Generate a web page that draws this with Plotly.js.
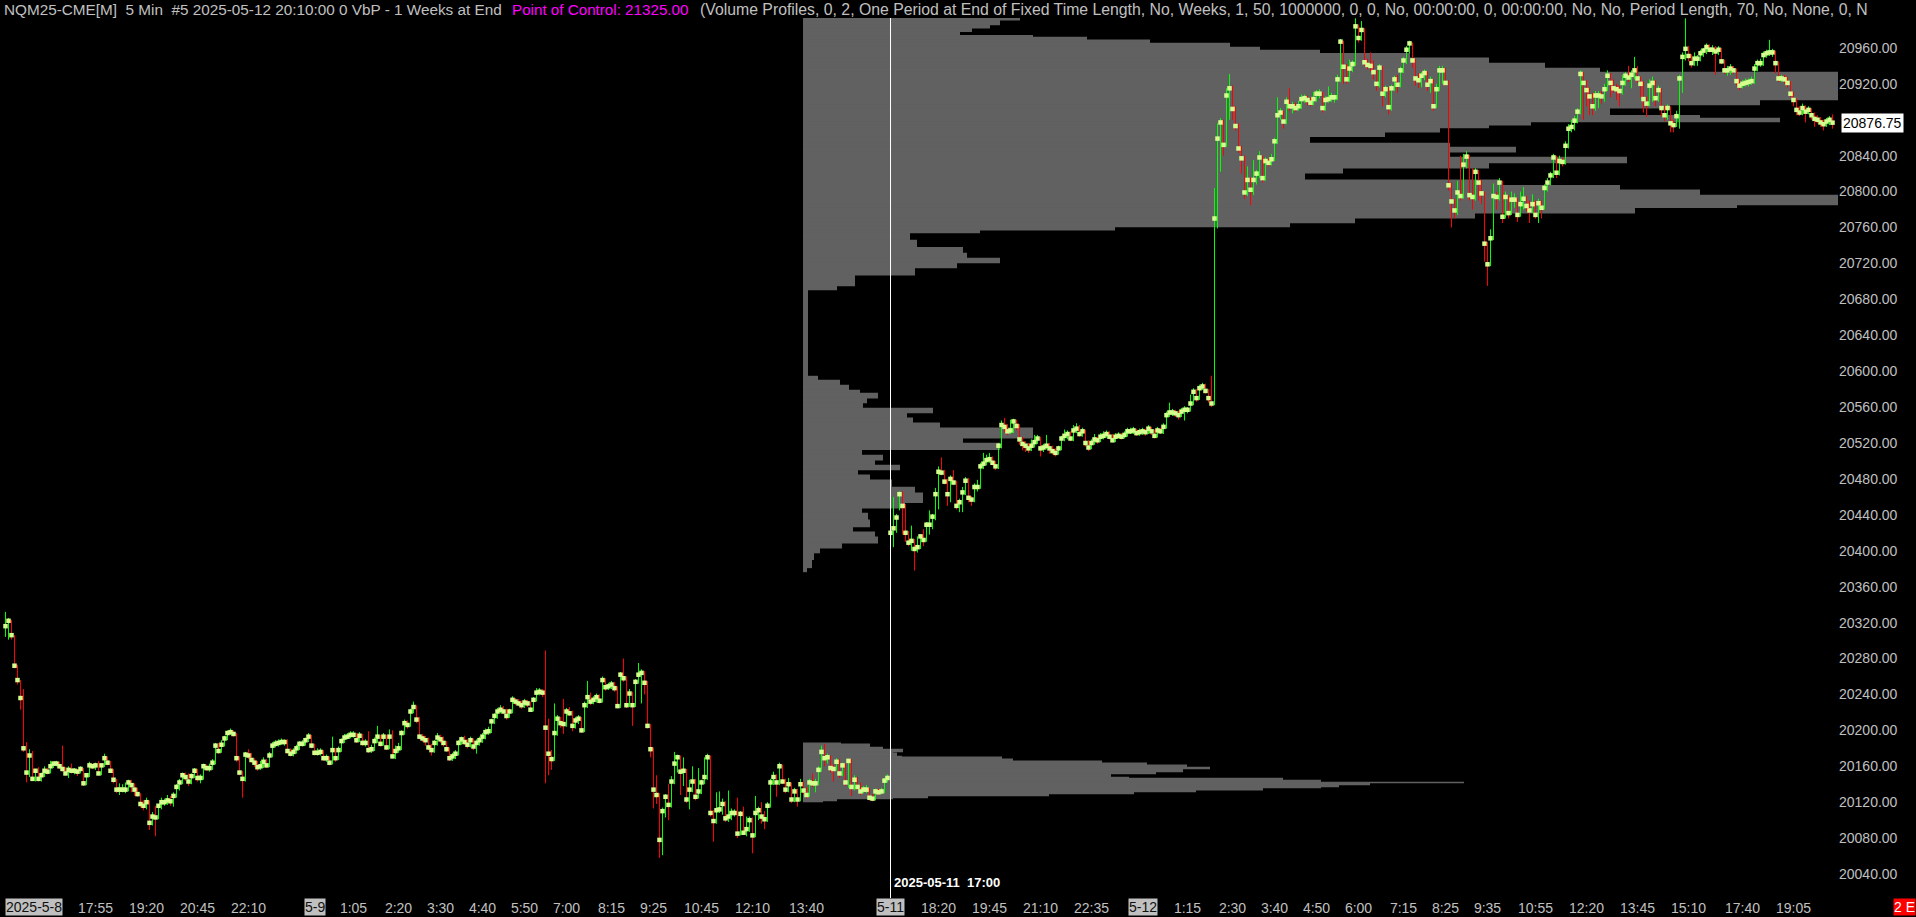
<!DOCTYPE html>
<html><head><meta charset="utf-8">
<script src="https://cdn.plot.ly/plotly-3.0.1.min.js"></script>
<style>html,body{margin:0;padding:0;background:#000;overflow:hidden}#chart{width:1916px;height:917px}</style>
</head><body><div id="chart"></div>
<script>
// ---- sessions: [date, start time, number of 5-min bars]
const sessions = [['5-8','14:25',19],['5-8','17:00',84],['5-9','0:00',192],['5-11','17:00',84],['5-12','0:00',192],['5-12','17:00',39]];

// ---- bar data (close / high / low) per trading day
const close0508 = [20316,20322,20306,20272,20256,20236,20180,20153,20172,20146,
20155,20146,20150,20155,20154,20160,20163,20163,20160,20157,
20152,20156,20155,20155,20154,20157,20141,20150,20161,20160,
20161,20152,20161,20169,20164,20155,20145,20134,20134,20134,
20134,20142,20139,20134,20129,20118,20116,20120,20097,20104,
20103,20116,20120,20120,20122,20121,20127,20137,20142,20150,
20148,20143,20149,20155,20147,20147,20160,20158,20158,20164,
20183,20177,20184,20191,20197,20198,20196,20169,20153,20146,
20173,20172,20167,20164,20159,20160,20165,20161,20172,20183,
20185,20186,20187,20187,20177,20174,20176,20180,20185,20185,
20189,20193,20183];
const high0508 = [20332,20325,20323,20306,20273,20256,20246,20187,20179,20177,
20157,20159,20153,20160,20158,20166,20165,20166,20165,20183,
20159,20160,20163,20158,20157,20160,20158,20152,20165,20163,
20164,20166,20163,20174,20171,20166,20157,20146,20141,20140,
20142,20145,20145,20141,20136,20130,20122,20125,20122,20109,
20116,20118,20125,20124,20128,20127,20131,20140,20146,20153,
20153,20152,20152,20158,20157,20151,20163,20162,20163,20168,
20186,20186,20189,20194,20200,20202,20200,20197,20171,20155,
20176,20179,20175,20169,20166,20166,20170,20168,20176,20187,
20189,20190,20191,20190,20190,20180,20180,20184,20188,20189,
20192,20197,20195];
const low0508 = [20304,20301,20301,20269,20251,20223,20176,20142,20148,20145,
20143,20143,20143,20148,20151,20152,20158,20160,20157,20154,
20150,20147,20152,20151,20149,20152,20138,20139,20148,20157,
20156,20150,20150,20159,20161,20153,20141,20130,20128,20131,
20130,20132,20131,20127,20126,20114,20111,20112,20089,20094,
20082,20101,20112,20116,20117,20116,20115,20125,20133,20140,
20144,20138,20140,20147,20143,20141,20145,20155,20154,20156,
20162,20174,20175,20182,20189,20195,20193,20165,20150,20125,
20143,20168,20164,20159,20155,20156,20158,20158,20159,20170,
20181,20182,20184,20183,20174,20171,20171,20174,20178,20182,
20183,20187,20180];

const close0509 = [20175,20175,20176,20169,20169,20164,20178,20169,20178,20188,
20192,20193,20195,20195,20189,20194,20186,20186,20178,20179,
20188,20193,20185,20193,20181,20193,20171,20177,20180,
20197,20208,20206,20221,20226,20212,20193,20191,20189,20181,
20178,20186,20192,20190,20186,20179,20169,20171,20174,20186,
20190,20187,20184,20189,20182,20186,20189,20193,20198,20199,
20210,20216,20221,20223,20221,20216,20221,20234,20232,20230,
20228,20231,20230,20223,20234,20242,20243,20242,20203,20174,
20168,20197,20213,20208,20207,20221,20219,20205,20211,20213,
20200,20228,20237,20232,20234,20237,20233,20256,20248,20249,
20251,20247,20227,20262,20258,20228,20241,20228,20254,20262,
20264,20253,20205,20179,20134,20128,20078,20110,20126,20117,
20143,20163,20170,20154,20155,20123,20134,20143,20126,20132,
20142,20148,20170,20108,20099,20111,20112,20118,20102,20104,
20108,20108,20085,20107,20086,20090,20100,20083,20108,20111,
20104,20101,20116,20142,20148,20142,20160,20143,20134,20140,
20123,20132,20123,20140,20133,20128,20142,20141,20141,20156,
20176,20169,20170,20158,20157,20165,20152,20161,20142,20166,
20137,20145,20137,20132,20134,20134,20125,20124,20132,20131,
20132,20144,20147];
const high0509 = [20185,20180,20180,20178,20173,20171,20193,20180,20182,20191,
20196,20197,20199,20199,20197,20198,20196,20190,20199,20184,
20192,20205,20195,20197,20195,20201,20200,20183,20186,
20200,20212,20211,20224,20232,20228,20215,20196,20194,20192,
20185,20189,20197,20195,20193,20188,20181,20175,20178,20189,
20193,20194,20190,20193,20191,20190,20193,20197,20202,20204,
20213,20219,20225,20228,20227,20224,20224,20238,20236,20235,
20233,20235,20234,20232,20237,20247,20247,20246,20289,20213,
20178,20230,20217,20215,20235,20225,20226,20222,20215,20217,
20215,20232,20255,20242,20238,20241,20240,20260,20258,20253,
20255,20254,20249,20265,20280,20260,20246,20243,20257,20275,
20268,20266,20255,20207,20181,20150,20130,20114,20129,20140,
20149,20176,20173,20172,20170,20157,20145,20160,20146,20158,
20145,20170,20174,20172,20111,20131,20132,20124,20121,20133,
20113,20112,20125,20110,20115,20104,20104,20103,20127,20115,
20120,20110,20120,20146,20154,20151,20164,20162,20146,20147,
20142,20136,20135,20146,20143,20137,20146,20152,20146,20160,
20183,20185,20174,20172,20162,20169,20168,20164,20163,20168,
20168,20150,20148,20142,20138,20139,20136,20129,20135,20135,
20136,20147,20151];
const low0509 = [20172,20172,20172,20166,20165,20161,20162,20165,20167,20176,
20186,20190,20191,20192,20186,20187,20183,20182,20175,20175,
20177,20186,20182,20183,20178,20179,20169,20168,20175,
20178,20195,20202,20204,20219,20208,20190,20187,20183,20178,
20172,20175,20183,20186,20182,20176,20166,20166,20168,20172,
20184,20184,20180,20181,20178,20174,20183,20186,20190,20195,
20197,20207,20213,20219,20218,20212,20214,20219,20228,20227,
20224,20225,20226,20221,20221,20232,20239,20237,20141,20150,
20156,20166,20194,20203,20196,20204,20216,20199,20202,20207,
20197,20198,20225,20228,20229,20231,20230,20231,20244,20245,
20246,20243,20225,20225,20254,20225,20226,20205,20226,20252,
20230,20240,20202,20170,20113,20118,20058,20061,20103,20100,
20114,20140,20153,20128,20138,20119,20112,20131,20122,20124,
20129,20140,20145,20104,20076,20096,20108,20106,20098,20098,
20100,20104,20080,20083,20084,20082,20087,20063,20081,20100,
20096,20090,20098,20114,20139,20126,20139,20140,20130,20131,
20119,20120,20115,20121,20129,20124,20126,20137,20131,20139,
20154,20160,20163,20153,20143,20155,20147,20149,20138,20136,
20127,20133,20134,20128,20130,20130,20122,20121,20122,20128,
20129,20130,20142];

const close0511 = [20420,20425,20437,20463,20450,20420,20409,20411,20402,20404,
20416,20412,20429,20429,20438,20463,20488,20487,20477,20463,
20480,20476,20450,20454,20465,20478,20459,20457,20471,20471,
20494,20497,20501,20502,20498,20494,20517,20540,20538,20533,
20534,20544,20539,20524,20519,20517,20514,20517,20521,20525,
20514,20515,20517,20514,20511,20509,20514,20525,20528,20530,
20525,20534,20536,20530,20533,20520,20515,20520,20524,20523,
20527,20528,20530,20527,20523,20527,20528,20527,20529,20533,
20533,20534,20531,20532];
const high0511 = [20426,20460,20441,20466,20466,20452,20422,20428,20413,20416,
20418,20424,20432,20445,20441,20470,20494,20504,20490,20480,
20484,20490,20478,20458,20471,20482,20481,20461,20475,20479,
20498,20509,20507,20509,20505,20500,20520,20545,20548,20541,
20546,20547,20546,20541,20527,20522,20520,20524,20529,20529,
20527,20519,20529,20520,20517,20514,20517,20528,20535,20534,
20533,20540,20542,20540,20537,20535,20523,20524,20530,20527,
20531,20533,20534,20533,20530,20531,20532,20531,20533,20537,
20537,20538,20536,20536];
const low0511 = [20398,20404,20420,20445,20418,20410,20405,20400,20378,20398,
20402,20405,20410,20418,20424,20434,20446,20484,20474,20450,
20454,20473,20446,20443,20443,20462,20454,20450,20454,20466,
20469,20491,20495,20498,20495,20490,20491,20514,20532,20529,
20530,20531,20534,20518,20512,20510,20509,20511,20515,20519,
20505,20510,20513,20508,20507,20505,20507,20512,20522,20524,
20522,20522,20531,20527,20527,20516,20511,20513,20518,20519,
20521,20524,20526,20524,20521,20521,20525,20524,20525,20527,
20530,20530,20528,20528];

const close0512 = [20533,20532,20536,20533,20528,20534,20533,20538,20551,20554,
20554,20553,20551,20555,20557,20557,20564,20577,20570,20581,
20583,20578,20570,20564,20770,20859,20877,20852,20907,20915,
20892,20873,20848,20837,20799,20813,20802,20813,20820,20838,
20815,20834,20832,20836,20856,20885,20888,20878,20900,20895,
20895,20893,20895,20903,20904,20902,20899,20903,20909,20909,
20893,20902,20903,20905,20905,20925,20967,20939,20925,20937,
20942,20984,20971,20980,20944,20941,20940,20933,20920,20938,
20909,20914,20894,20915,20925,20919,20935,20946,20958,20965,
20946,20926,20924,20929,20932,20919,20923,20895,20914,20935,
20935,20921,20807,20789,20779,20799,20795,20830,20839,20796,
20794,20822,20810,20798,20742,20719,20748,20795,20794,20810,
20772,20794,20776,20791,20791,20774,20786,20792,20784,20779,
20786,20774,20787,20782,20804,20810,20818,20838,20821,20834,
20833,20851,20870,20872,20879,20889,20931,20921,20913,20906,
20895,20907,20907,20906,20914,20929,20921,20915,20914,20912,
20921,20929,20927,20930,20935,20926,20920,20903,20898,20918,
20921,20904,20913,20893,20885,20893,20876,20874,20884,20926,
20950,20959,20951,20943,20948,20948,20954,20957,20961,20958,
20958,20956,20958,20945,20935,20935,20937,20935,20923,20918,
20920,20921,20922,20923,20937,20943,20943,20952,20954,20955,
20955,20943,20926,20926,20925,20921,20909,20902,20891,20888,
20893,20889,20891,20885,20881,20880,20877,20875,20878,20880,
20876.75];
const high0512 = [20537,20536,20540,20538,20535,20538,20537,20542,20555,20565,
20558,20557,20556,20559,20561,20560,20574,20581,20580,20585,
20587,20586,20580,20595,20804,20876,20882,20880,20915,20931,
20918,20895,20876,20851,20840,20828,20816,20835,20824,20845,
20840,20838,20836,20842,20860,20905,20893,20890,20905,20915,
20900,20899,20901,20908,20908,20907,20905,20911,20913,20914,
20911,20906,20917,20910,20908,20930,20970,20968,20942,20947,
20946,20993,20986,20990,20982,20948,20955,20946,20935,20942,
20940,20918,20916,20919,20929,20930,20939,20950,20962,20968,
20966,20948,20932,20933,20936,20934,20928,20925,20920,20940,
20940,20938,20924,20810,20792,20812,20840,20842,20845,20841,
20826,20826,20824,20813,20800,20744,20758,20809,20800,20815,
20812,20800,20796,20800,20798,20793,20800,20805,20795,20790,
20797,20790,20792,20790,20808,20815,20822,20842,20840,20840,
20838,20856,20875,20880,20884,20893,20935,20933,20924,20916,
20910,20912,20912,20912,20920,20935,20932,20925,20920,20918,
20930,20933,20940,20935,20950,20940,20928,20923,20906,20925,
20928,20924,20918,20915,20896,20897,20895,20880,20890,20930,
20955,20993,20962,20953,20955,20952,20958,20960,20965,20964,
20963,20962,20962,20960,20947,20940,20942,20940,20937,20925,
20924,20926,20926,20928,20942,20947,20948,20956,20958,20969,
20959,20957,20945,20930,20930,20928,20923,20911,20904,20895,
20898,20896,20895,20893,20888,20885,20883,20880,20882,20884,
20886];
const low0512 = [20529,20528,20530,20529,20525,20526,20530,20530,20536,20549,
20550,20549,20546,20549,20545,20553,20555,20562,20566,20568,
20579,20575,20565,20560,20562,20759,20822,20840,20850,20880,
20880,20868,20843,20820,20792,20795,20785,20796,20808,20815,
20810,20812,20828,20829,20834,20853,20880,20870,20875,20890,
20887,20889,20890,20892,20899,20896,20895,20896,20900,20904,
20888,20890,20899,20900,20899,20902,20922,20920,20920,20922,
20933,20940,20966,20968,20940,20936,20934,20925,20912,20916,
20895,20905,20886,20890,20912,20910,20916,20932,20942,20954,
20938,20918,20915,20916,20924,20912,20910,20890,20893,20912,
20920,20918,20801,20760,20770,20774,20790,20792,20826,20790,
20780,20790,20790,20786,20722,20695,20717,20746,20780,20790,
20765,20770,20770,20774,20782,20766,20772,20780,20778,20765,
20776,20770,20765,20770,20780,20800,20807,20815,20815,20818,
20828,20830,20848,20866,20868,20876,20886,20880,20895,20885,
20885,20890,20893,20898,20900,20912,20905,20910,20902,20895,
20908,20918,20922,20915,20925,20921,20905,20888,20883,20895,
20900,20895,20900,20884,20878,20880,20866,20866,20872,20870,
20910,20946,20945,20938,20940,20940,20945,20950,20953,20955,
20952,20930,20952,20942,20931,20929,20930,20931,20918,20913,
20915,20917,20917,20919,20920,20934,20939,20940,20949,20951,
20950,20932,20922,20922,20920,20916,20905,20895,20885,20884,
20885,20877,20886,20880,20872,20876,20872,20868,20872,20874,
20870];

// ---- volume profile rows: price low, price high, volume (display units)
const profLow = [20991,20985.5,20982,20978,20974,20972,20969,20965.5,20961,20957.5,20954,20949,20943,20937.5,20933,20902,20896.5,20893,20885,20882,20877.5,20874,20871,20866,20861,20854,20849.5,20844,20838.5,20832,20826,20820.5,20813,20807,20802,20796,20785,20782,20776,20770.5,20765,20760.5,20757,20754,20746,20738,20731.5,20726,20720.5,20715,20707,20695,20690.5,20594.5,20590,20584.5,20579,20575.5,20570,20564.5,20559,20553.5,20548,20542.5,20537,20525.5,20520,20512.5,20506.5,20501,20495.5,20490,20484.5,20479,20471,20464.5,20453.5,20447.5,20442,20434.5,20426.5,20421,20415.5,20408.5,20403,20397.5,20390,20381,20376.5,
20185,20181.5,20179.25,20176,20175,20171.5,20170.5,20168.25,20166,20163.75,20161.5,20159.25,20157,20153.75,20151.5,20148,20147,20144.75,20142.5,20141.5,20139.25,20137,20136,20133.5,20131.5,20129.25,20127,20124.75,20123.5,20121.5,20120.25];
const profHigh = [20994,20991,20985.5,20982,20978,20974,20972,20969,20965.5,20961,20957.5,20954,20949,20943,20937.5,20933,20902,20896.5,20893,20885,20882,20877.5,20874,20871,20866,20861,20854,20849.5,20844,20838.5,20832,20826,20820.5,20813,20807,20802,20796,20785,20782,20776,20770.5,20765,20760.5,20757,20754,20746,20738,20731.5,20726,20720.5,20715,20707,20695,20690.5,20594.5,20590,20584.5,20579,20575.5,20570,20564.5,20559,20553.5,20548,20542.5,20537,20525.5,20520,20512.5,20506.5,20501,20495.5,20490,20484.5,20479,20471,20464.5,20453.5,20447.5,20442,20434.5,20426.5,20421,20415.5,20408.5,20403,20397.5,20390,20381,
20186,20185,20181.5,20179.25,20176,20175,20171.5,20170.5,20168.25,20166,20163.75,20161.5,20159.25,20157,20153.75,20151.5,20148,20147,20144.75,20142.5,20141.5,20139.25,20137,20136,20133.5,20131.5,20129.25,20127,20124.75,20123.5,20121.5];
const profVol = [217,197,187,169,157,230,284,347,427,457,517,607,686,742,797,1100,957,867,807,897,977,728,686,637,582,507,647,713,647,824,686,540,502,697,817,897,1100,934,832,672,552,487,312,177,107,114,160,164,197,154,112,52,34,5,15,37,46,57,75,64,60,130,104,110,137,230,160,197,59,80,72,97,55,67,89,112,120,102,59,65,67,50,72,75,39,17,11,9,4,
38,67,80,100,90,94,99,199,210,299,344,384,407,380,353,308,326,480,518,661,567,536,518,460,393,331,246,125,90,34,20];

// ---- axis labels and texts
const tickTimes = ['5-8 17:55','5-8 19:20','5-8 20:45','5-8 22:10',
 '5-9 1:05','5-9 2:20','5-9 3:30','5-9 4:40','5-9 5:50','5-9 7:00','5-9 8:15','5-9 9:25','5-9 10:45','5-9 12:10','5-9 13:40',
 '5-11 18:20','5-11 19:45','5-11 21:10','5-11 22:35',
 '5-12 1:15','5-12 2:30','5-12 3:40','5-12 4:50','5-12 6:00','5-12 7:15','5-12 8:25','5-12 9:35','5-12 10:55','5-12 12:20','5-12 13:45','5-12 15:10','5-12 17:40','5-12 19:05'];
const dateMarks = [['5-8 14:25','2025-5-8'],['5-9 0:00','5-9'],['5-11 17:00','5-11'],['5-12 0:00','5-12']];
const sessionStartKey = '5-11 17:00';
const sessionStartText = '2025-05-11&nbsp;&nbsp;17:00';
const priceTicks = [];
for (let p = 20040; p <= 20960; p += 40) priceTicks.push(p);
const titleMain = 'NQM25-CME[M]&nbsp;&nbsp;5 Min&nbsp;&nbsp;#5 2025-05-12 20:10:00 0 VbP - 1 Weeks at End';
const titlePOC = 'Point of Control: 21325.00';
const titleStudy = '(Volume Profiles, 0, 2, One Period at End of Fixed Time Length, No, Weeks, 1, 50, 1000000, 0, 0, No, 00:00:00, 0, 00:00:00, No, No, Period Length, 70, No, None, 0, N';

// ---- build bar time keys
const barKeys = [];
sessions.forEach(([d, t, n]) => {
  const [h, m] = t.split(':').map(Number);
  const mins = h * 60 + m;
  for (let k = 0; k < n; k++) {
    const mm = mins + 5 * k;
    barKeys.push(d + ' ' + Math.floor(mm / 60) + ':' + String(mm % 60).padStart(2, '0'));
  }
});
const idxOf = key => barKeys.indexOf(key);

const closes = [...close0508, ...close0509, ...close0511, ...close0512];
const highs = [...high0508, ...high0509, ...high0511, ...high0512];
const lows = [...low0508, ...low0509, ...low0511, ...low0512];

const upX = [], upY = [], dnX = [], dnY = [];
closes.forEach((c, i) => {
  const isUp = i === 0 || c >= closes[i - 1];
  const X = isUp ? upX : dnX, Y = isUp ? upY : dnY;
  X.push(i, i, null); Y.push(lows[i], highs[i], null);
});
const xs = closes.map((_, i) => i);

const GRAY = '#c0c0c0';
const PROF = '#616161';
const FONT = 'Liberation Sans, Arial, sans-serif';
const lastClose = closes[closes.length - 1];
const ROW_OVERLAP = 0.7; // price units, hides anti-alias seams between profile rows

const traces = [
  {type:'bar', orientation:'h', xaxis:'x', yaxis:'y',
   y: profLow.map((l, i) => (l + profHigh[i]) / 2),
   width: profLow.map((l, i) => profHigh[i] - l + ROW_OVERLAP),
   x: profVol, base: 0,
   marker:{color:PROF, line:{width:0}}, hoverinfo:'skip'},
  {type:'scatter', mode:'lines', xaxis:'x2', yaxis:'y', x: upX, y: upY, line:{color:'#00ff00', width:1}, hoverinfo:'skip'},
  {type:'scatter', mode:'lines', xaxis:'x2', yaxis:'y', x: dnX, y: dnY, line:{color:'#ff0000', width:1}, hoverinfo:'skip'},
  {type:'scatter', mode:'markers', xaxis:'x2', yaxis:'y', x: xs, y: closes,
   marker:{symbol:'square', size:4.5, color:'#d4ff8f', line:{width:0}}, hoverinfo:'skip'}
];

const yTicks = priceTicks.filter(p => Math.abs(p - lastClose) > 12);

const annotations = [
  {xref:'paper', yref:'paper', x:0, y:1, xanchor:'left', yanchor:'top', yshift:19, xshift:2, showarrow:false,
   text: titleMain, font:{family:FONT, size:15.3, color:GRAY}},
  {xref:'paper', yref:'paper', x:510/1838, y:1, xanchor:'left', yanchor:'top', yshift:19, showarrow:false,
   text: titlePOC, font:{family:FONT, size:15.2, color:'#ff00ff'}},
  {xref:'paper', yref:'paper', x:698/1838, y:1, xanchor:'left', yanchor:'top', yshift:19, showarrow:false,
   text: titleStudy, font:{family:FONT, size:15.8, color:GRAY}},
  {xref:'paper', yref:'y', x:1, y:lastClose, xanchor:'left', yanchor:'middle', xshift:3, showarrow:false,
   text: lastClose.toFixed(2), bgcolor:'#ffffff', borderpad:1,
   font:{family:FONT, size:14, color:'#000000'}},
  {xref:'paper', yref:'paper', x:1, y:0, xanchor:'right', yanchor:'top', xshift:78, yshift:0, showarrow:false,
   text:'2 E', bgcolor:'#ff0000', borderpad:0, font:{family:FONT, size:14, color:'#ffffff'}},
  {xref:'x2', yref:'paper', x:idxOf(sessionStartKey), y:0, xanchor:'left', yanchor:'bottom', xshift:1, yshift:6, showarrow:false,
   text:'<b>' + sessionStartText + '</b>', font:{family:FONT, size:13, color:'#ffffff'}}
];
dateMarks.forEach(([key, label], k) => {
  annotations.push({xref:'x2', yref:'paper', x:idxOf(key), y:0, xanchor: k === 0 ? 'left' : 'center', yanchor:'top',
    yshift:0, xshift: k === 0 ? -1 : 0, showarrow:false, text:label, bgcolor:GRAY, borderpad:0,
    font:{family:FONT, size:14, color:'#111111'}});
});

const layout = {
  width:1916, height:917,
  paper_bgcolor:'#000000', plot_bgcolor:'#000000',
  margin:{l:0, r:78, t:18, b:19},
  showlegend:false, barmode:'overlay', hovermode:false,
  xaxis:{range:[-803, 1035], visible:false, fixedrange:true},
  xaxis2:{overlaying:'x', anchor:'y', side:'bottom', range:[-1.8333, 610.8333], showgrid:false, zeroline:false, showline:false, ticks:'',
    tickvals: tickTimes.map(idxOf), ticktext: tickTimes.map(t => t.split(' ')[1]),
    tickfont:{family:FONT, size:14, color:GRAY}, fixedrange:true},
  yaxis:{side:'right', range:[20013.3, 20993.3], showgrid:false, zeroline:false, showline:false, ticks:'',
    tickvals: yTicks, ticktext: yTicks.map(p => p.toFixed(2)),
    tickfont:{family:FONT, size:14, color:GRAY}, fixedrange:true},
  shapes:[{type:'line', xref:'x2', yref:'paper', x0:idxOf(sessionStartKey), x1:idxOf(sessionStartKey), y0:0, y1:1,
    line:{color:'#ffffff', width:1}, layer:'above'}],
  annotations
};

Plotly.newPlot('chart', traces, layout, {displayModeBar:false, staticPlot:true});
</script>
</body></html>
